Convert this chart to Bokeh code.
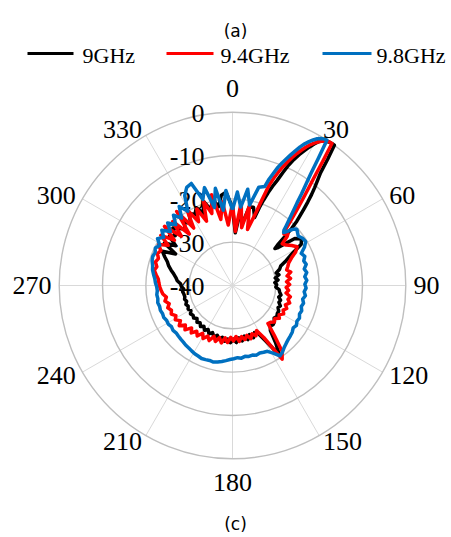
import numpy as np
from bokeh.plotting import figure
from bokeh.models import Range1d
from bokeh.core.properties import value
from bokeh.embed import file_html
from bokeh.resources import INLINE

# ---------------- data ----------------
angles = list(range(0, 19, 3)) + list(range(19, 51)) + list(range(53, 358, 3))

gain_9GHz = [-22, -27.8, -23, -25.6, -21.5, -21.3, -23.5,
    -21, -19, -17, -15.3, -13.7, -11.5, -9.3, -7.6, -6.1, -4.8, -3.5, -2.3, -1.2, -0.6, -0.3, -0.1,
    0, 0, -3.5, -7, -8.8, -10.5, -12.2, -14, -15.8, -17.5, -19, -21, -23.5, -26, -27, -26.5,
    -22, -20.8, -21.5, -24.5, -26.3, -28, -28.5, -29.5, -29, -30, -29.4, -30.2, -29.8, -30, -29.2, -29,
    -28.6, -29, -28.4, -28.6, -28, -28.3, -27.8, -27.8, -27.5, -27.8, -27.2, -27, -27.2, -26.4, -23.5, -20.6,
    -25, -27.6, -28, -27, -28, -27, -28, -27, -27.8, -26.8, -27.6, -26.8, -27.6, -27, -27.8, -27.2,
    -28, -27.4, -28.2, -27.6, -28.4, -27.8, -28.5, -28, -28.6, -28.2, -28.8, -28.3, -28.6, -28.3, -28.8, -28.4,
    -28.7, -28.4, -28.8, -28.5, -28.7, -28.6, -28.4, -28.7, -28.2, -28, -27.2, -26.8, -26.2, -25.4, -24.6, -24,
    -23, -22, -25, -21.5, -24, -21.5, -22.5, -20.9, -22, -23, -21.5, -22.8, -20.5, -21.5, -20.2, -22,
    -19.5, -21.8, -19.6, -21.5, -19, -18.4]

gain_9_4GHz = [-21, -27.5, -20.7, -26.5, -21, -26.6, -22,
    -19, -15.5, -13.5, -11.8, -10.2, -8.8, -7.4, -6.1, -4.9, -3.8, -2.8, -2, -1.3, -0.7, -0.3, 0,
    0, -4.5, -8.5, -11.5, -14, -16.3, -18.3, -20, -21.5, -22.8, -23.2, -23, -22.5, -23, -24, -25,
    -24.5, -23.5, -22.6, -23.5, -25, -26, -26.5, -27, -26.2, -27.2, -26.5, -27.5, -26.8, -27.6, -27, -27.5,
    -26.4, -26.8, -26.2, -27, -26.4, -27, -26.5, -27.3, -26.8, -27.6, -27.2, -27.8, -28, -25, -21, -19.5,
    -26, -28.2, -27.2, -28, -27, -28, -27.2, -28, -27, -28.2, -27.2, -28, -26.8, -27.8, -26.5, -27.6,
    -26.5, -27.5, -26.2, -27, -26, -27, -25.8, -26.6, -25.5, -26.4, -25, -25.8, -24.6, -25.5, -24.6, -25.2,
    -24.4, -24.8, -24.2, -24.8, -24, -24.5, -23.8, -23.5, -23.2, -23, -22.8, -22.2, -21.6, -22, -21.4, -21.8,
    -21.2, -21.6, -20.5, -22.5, -19.8, -23, -19.2, -23.6, -19.8, -24.5, -18.6, -24, -19.5, -23.3, -20.5, -24,
    -19.5, -22.7, -18.5, -24.5, -20.5, -26]

gain_9_8GHz = [-22.5, -18.4, -21.8, -17.5, -21, -16.5, -16,
    -14, -12.5, -10.8, -9.5, -8.3, -7, -5.7, -4.4, -3.3, -2.4, -1.6, -0.9, -0.4, -0.1, 0, -4.5,
    -8.5, -11.2, -13.5, -15.8, -17.5, -19, -20.3, -21.5, -22.6, -23, -22.5, -21.8, -21, -20.5, -20.3, -20.5,
    -21, -20.5, -20.3, -21.2, -22.5, -22, -22.6, -22.3, -23, -22.6, -23.2, -22.8, -23.3, -23, -23.4, -23,
    -23.5, -23.1, -23.4, -23, -23.2, -22.8, -23, -22.6, -22.9, -22.5, -22.3, -22.1, -21.8, -21.4, -20.8, -20.4,
    -21.8, -22.8, -23, -23.2, -23, -23.3, -23.2, -23.4, -23.1, -23.3, -23.1, -22.9, -22.6, -22.3, -22, -21.8,
    -21.9, -21.8, -21.7, -21.9, -22, -22.2, -22.4, -22.5, -22.7, -22.8, -22.9, -23, -22.8, -23, -22.7, -22.8,
    -22.5, -22.6, -22.4, -22.5, -22.3, -22.5, -22.4, -22.6, -22.5, -22.2, -22, -21.6, -21.2, -21, -20.6, -20.4,
    -20.6, -20.2, -20.8, -19.6, -20.6, -19.3, -21, -19.2, -20.8, -18.8, -20.5, -18, -20, -16.5, -15, -14.6,
    -19, -16.5, -21.5, -17.2, -22.5, -18]

series_names = ["9GHz", "9.4GHz", "9.8GHz"]
series_colors = ["#000000", "#FF0000", "#0070C0"]
series_values = [gain_9GHz, gain_9_4GHz, gain_9_8GHz]

ring_values = [-30, -20, -10, 0]
radial_labels = ["-40", "-30", "-20", "-10", "0"]
radial_label_values = [-40, -30, -20, -10, 0]
angle_ticks = list(range(0, 360, 30))

for s in series_values:
    assert len(s) == len(angles), (len(s), len(angles))

# ---------------- geometry ----------------
DB_MIN, DB_MAX = -40.0, 0.0
R_OUT = 173.3  # pixels of outer ring


def rad(db):
    return (np.asarray(db, dtype=float) - DB_MIN) / (DB_MAX - DB_MIN) * R_OUT


W, H = 451, 537
CX, CY = 232, 285  # centre in figure pixels (from top-left)

p = figure(width=W, height=H, x_range=Range1d(-CX, W - CX), y_range=Range1d(-(H - CY), CY),
           output_backend="svg", toolbar_location=None, min_border=0,
           x_axis_location=None, y_axis_location=None)
p.grid.visible = False
p.outline_line_color = None
p.background_fill_color = "white"
p.border_fill_color = "white"

# spokes
th = np.deg2rad(angle_ticks)
p.segment(x0=np.zeros(len(th)), y0=np.zeros(len(th)), x1=R_OUT * np.sin(th), y1=R_OUT * np.cos(th),
          line_color="#D9D9D9", line_width=1)
# rings
p.circle(x=np.zeros(len(ring_values)), y=np.zeros(len(ring_values)), radius=rad(ring_values),
         fill_color=None, line_color="#BFBFBF", line_width=1.4)

SERIF = value("Liberation Serif")

# radial labels (under the data lines)
p.text(x=[-28] * len(radial_labels), y=list(rad(radial_label_values) - 1.3), text=radial_labels,
       text_align="right", text_baseline="middle", text_font=SERIF, text_font_size="26px",
       text_color="#000000")

# data
for vals, col in zip(series_values, series_colors):
    a = np.deg2rad(np.array(angles + [angles[0] + 360], dtype=float))
    r = rad(list(vals) + [vals[0]])
    p.line(r * np.sin(a), r * np.cos(a), line_color=col, line_width=3.5, line_join="round")

# angle labels
groups = {}
for ang in angle_ticks:
    t = np.deg2rad(ang)
    s, c = np.sin(t), np.cos(t)
    if abs(s) < 0.01:
        align = "center"
        x = 0.0
        y = 197 if c > 0 else -197
    else:
        align = "left" if s > 0 else "right"
        x = 181 * s
        y = 180 * c
    groups.setdefault(align, ([], [], []))
    groups[align][0].append(x)
    groups[align][1].append(y)
    groups[align][2].append(str(ang))
for align, (xs, ys, ts) in groups.items():
    p.text(x=xs, y=ys, text=ts, text_align=align, text_baseline="middle",
           text_font=SERIF, text_font_size="26px", text_color="#000000")

# legend (top)
leg_x0 = [-205, -66, 90]
leg_x1 = [-159, -19, 139]
leg_tx = [-150, -12, 144]
p.segment(x0=leg_x0, y0=[232] * 3, x1=leg_x1, y1=[232] * 3, line_color=series_colors, line_width=3)
p.text(x=leg_tx, y=[230.5] * 3, text=series_names, text_align="left", text_baseline="middle",
       text_font=SERIF, text_font_size="22px", text_color="#000000")

# panel captions
p.text(x=[3], y=[255], text=["(a)"], text_align="center", text_baseline="middle",
       text_font=value("DejaVu Sans"), text_font_size="17px", text_color="#000000")
p.text(x=[3], y=[-238], text=["(c)"], text_align="center", text_baseline="middle",
       text_font=value("DejaVu Sans"), text_font_size="17px", text_color="#000000")

open("out.html", "w").write(file_html(p, INLINE))
